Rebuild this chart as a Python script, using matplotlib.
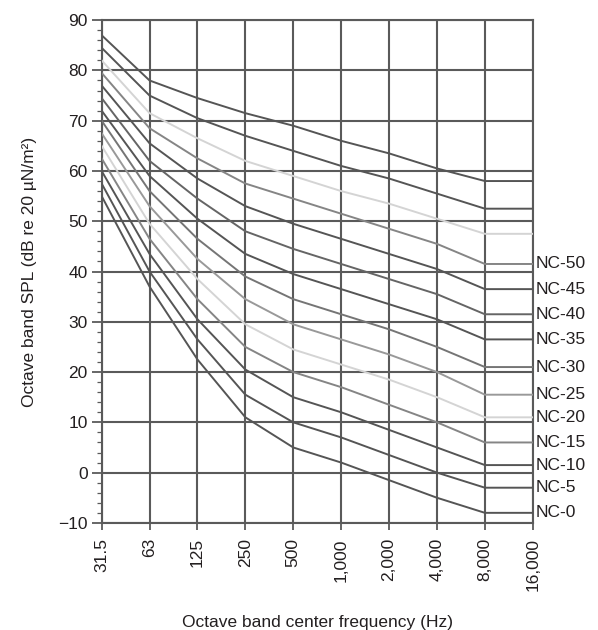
import numpy as np
import matplotlib
matplotlib.use("Agg")
import matplotlib.pyplot as plt
from matplotlib.ticker import MultipleLocator

plt.rcParams['font.family'] = ['Liberation Sans', 'DejaVu Sans']

# octave band centres (last one only carries the flat extension)
freq_labels = ['31.5', '63', '125', '250', '500', '1,000', '2,000', '4,000', '8,000', '16,000']

# NC curves, levels in dB at 31.5 ... 8000 Hz
nc65 = [87, 78, 74.5, 71.5, 69, 66, 63.5, 60.5, 58]
nc60 = [84.5, 75, 70.5, 67, 64, 61, 58.5, 55.5, 52.5]
nc55 = [82, 71.5, 66.5, 62, 59, 56, 53.5, 50.5, 47.5]
nc50 = [79.5, 68.5, 62.5, 57.5, 54.5, 51.5, 48.5, 45.5, 41.5]
nc45 = [77, 65.5, 58.5, 53, 49.5, 46.5, 43.5, 40.5, 36.5]
nc40 = [74.5, 62, 54.5, 48, 44.5, 41.5, 38.5, 35.5, 31.5]
nc35 = [72, 59, 50.5, 43.5, 39.5, 36.5, 33.5, 30.5, 26.5]
nc30 = [70, 56, 46.5, 39, 34.5, 31.5, 28.5, 25, 21]
nc25 = [67.5, 53, 42.5, 34.5, 29.5, 26.5, 23.5, 20, 15.5]
nc20 = [65, 49.5, 38.5, 29.5, 24.5, 21.5, 18.5, 15, 11]
nc15 = [62.5, 46.5, 34.5, 25, 20, 17, 13.5, 10, 6]
nc10 = [60, 43.5, 30.5, 20.5, 15, 12, 8.5, 5, 1.5]
nc5 = [57.5, 40, 26.5, 15.5, 10, 7, 3.5, 0, -3]
nc0 = [55, 37, 22.5, 11, 5, 2, -1.5, -5, -8]

curves = [nc65, nc60, nc55, nc50, nc45, nc40, nc35, nc30, nc25, nc20, nc15, nc10, nc5, nc0]
nc_names = ['NC-65', 'NC-60', 'NC-55', 'NC-50', 'NC-45', 'NC-40', 'NC-35',
            'NC-30', 'NC-25', 'NC-20', 'NC-15', 'NC-10', 'NC-5', 'NC-0']
labelled = ['NC-50', 'NC-45', 'NC-40', 'NC-35', 'NC-30', 'NC-25',
            'NC-20', 'NC-15', 'NC-10', 'NC-5', 'NC-0']
line_colors = ['#555555', '#555555', '#d4d4d4', '#858585', '#555555', '#656565', '#555555',
               '#757575', '#999999', '#d4d4d4', '#858585', '#555555', '#555555', '#555555']

grid_col = '#5a5a5a'
text_col = '#231f20'
fs = 12.5

fig = plt.figure(figsize=(5.98, 6.30), dpi=100)
ax = fig.add_axes([0.170, 0.170, 0.721, 0.798])

x = np.arange(len(freq_labels))
for vals, name, col in zip(curves, nc_names, line_colors):
    # flat continuation from 8 kHz to the right edge
    ys = list(vals) + [vals[-1]]
    ax.plot(x, ys, color=col, lw=1.4, zorder=3, solid_joinstyle='round')
    if name in labelled:
        ax.annotate(name, xy=(x[-1], vals[-1]), xytext=(2, 0), textcoords='offset points',
                    ha='left', va='center', fontsize=fs, color=text_col,
                    annotation_clip=False)

ax.set_xlim(0, len(freq_labels) - 1)
ax.set_ylim(-10, 90)
ax.set_xticks(x)
ax.set_xticklabels(freq_labels, rotation=90, va='top', ha='center')
ax.yaxis.set_major_locator(MultipleLocator(10))
ax.yaxis.set_minor_locator(MultipleLocator(2))

ax.grid(True, which='major', color=grid_col, lw=1.5, zorder=1)
for s in ax.spines.values():
    s.set_color(grid_col)
    s.set_linewidth(1.5)

ax.tick_params(axis='both', which='major', direction='out', length=7, width=1.3,
               color=grid_col, labelsize=fs, labelcolor=text_col, pad=3)
ax.tick_params(axis='x', which='major', length=5, pad=6)
ax.tick_params(axis='y', which='minor', direction='out', length=3.5, width=0.9, color=grid_col)

ax.set_ylabel('Octave band SPL (dB re 20 µN/m²)', fontsize=fs, color=text_col, labelpad=15)
ax.set_xlabel('Octave band center frequency (Hz)', fontsize=fs, color=text_col, labelpad=17)

fig.savefig('out.png', dpi=100, facecolor='white')
